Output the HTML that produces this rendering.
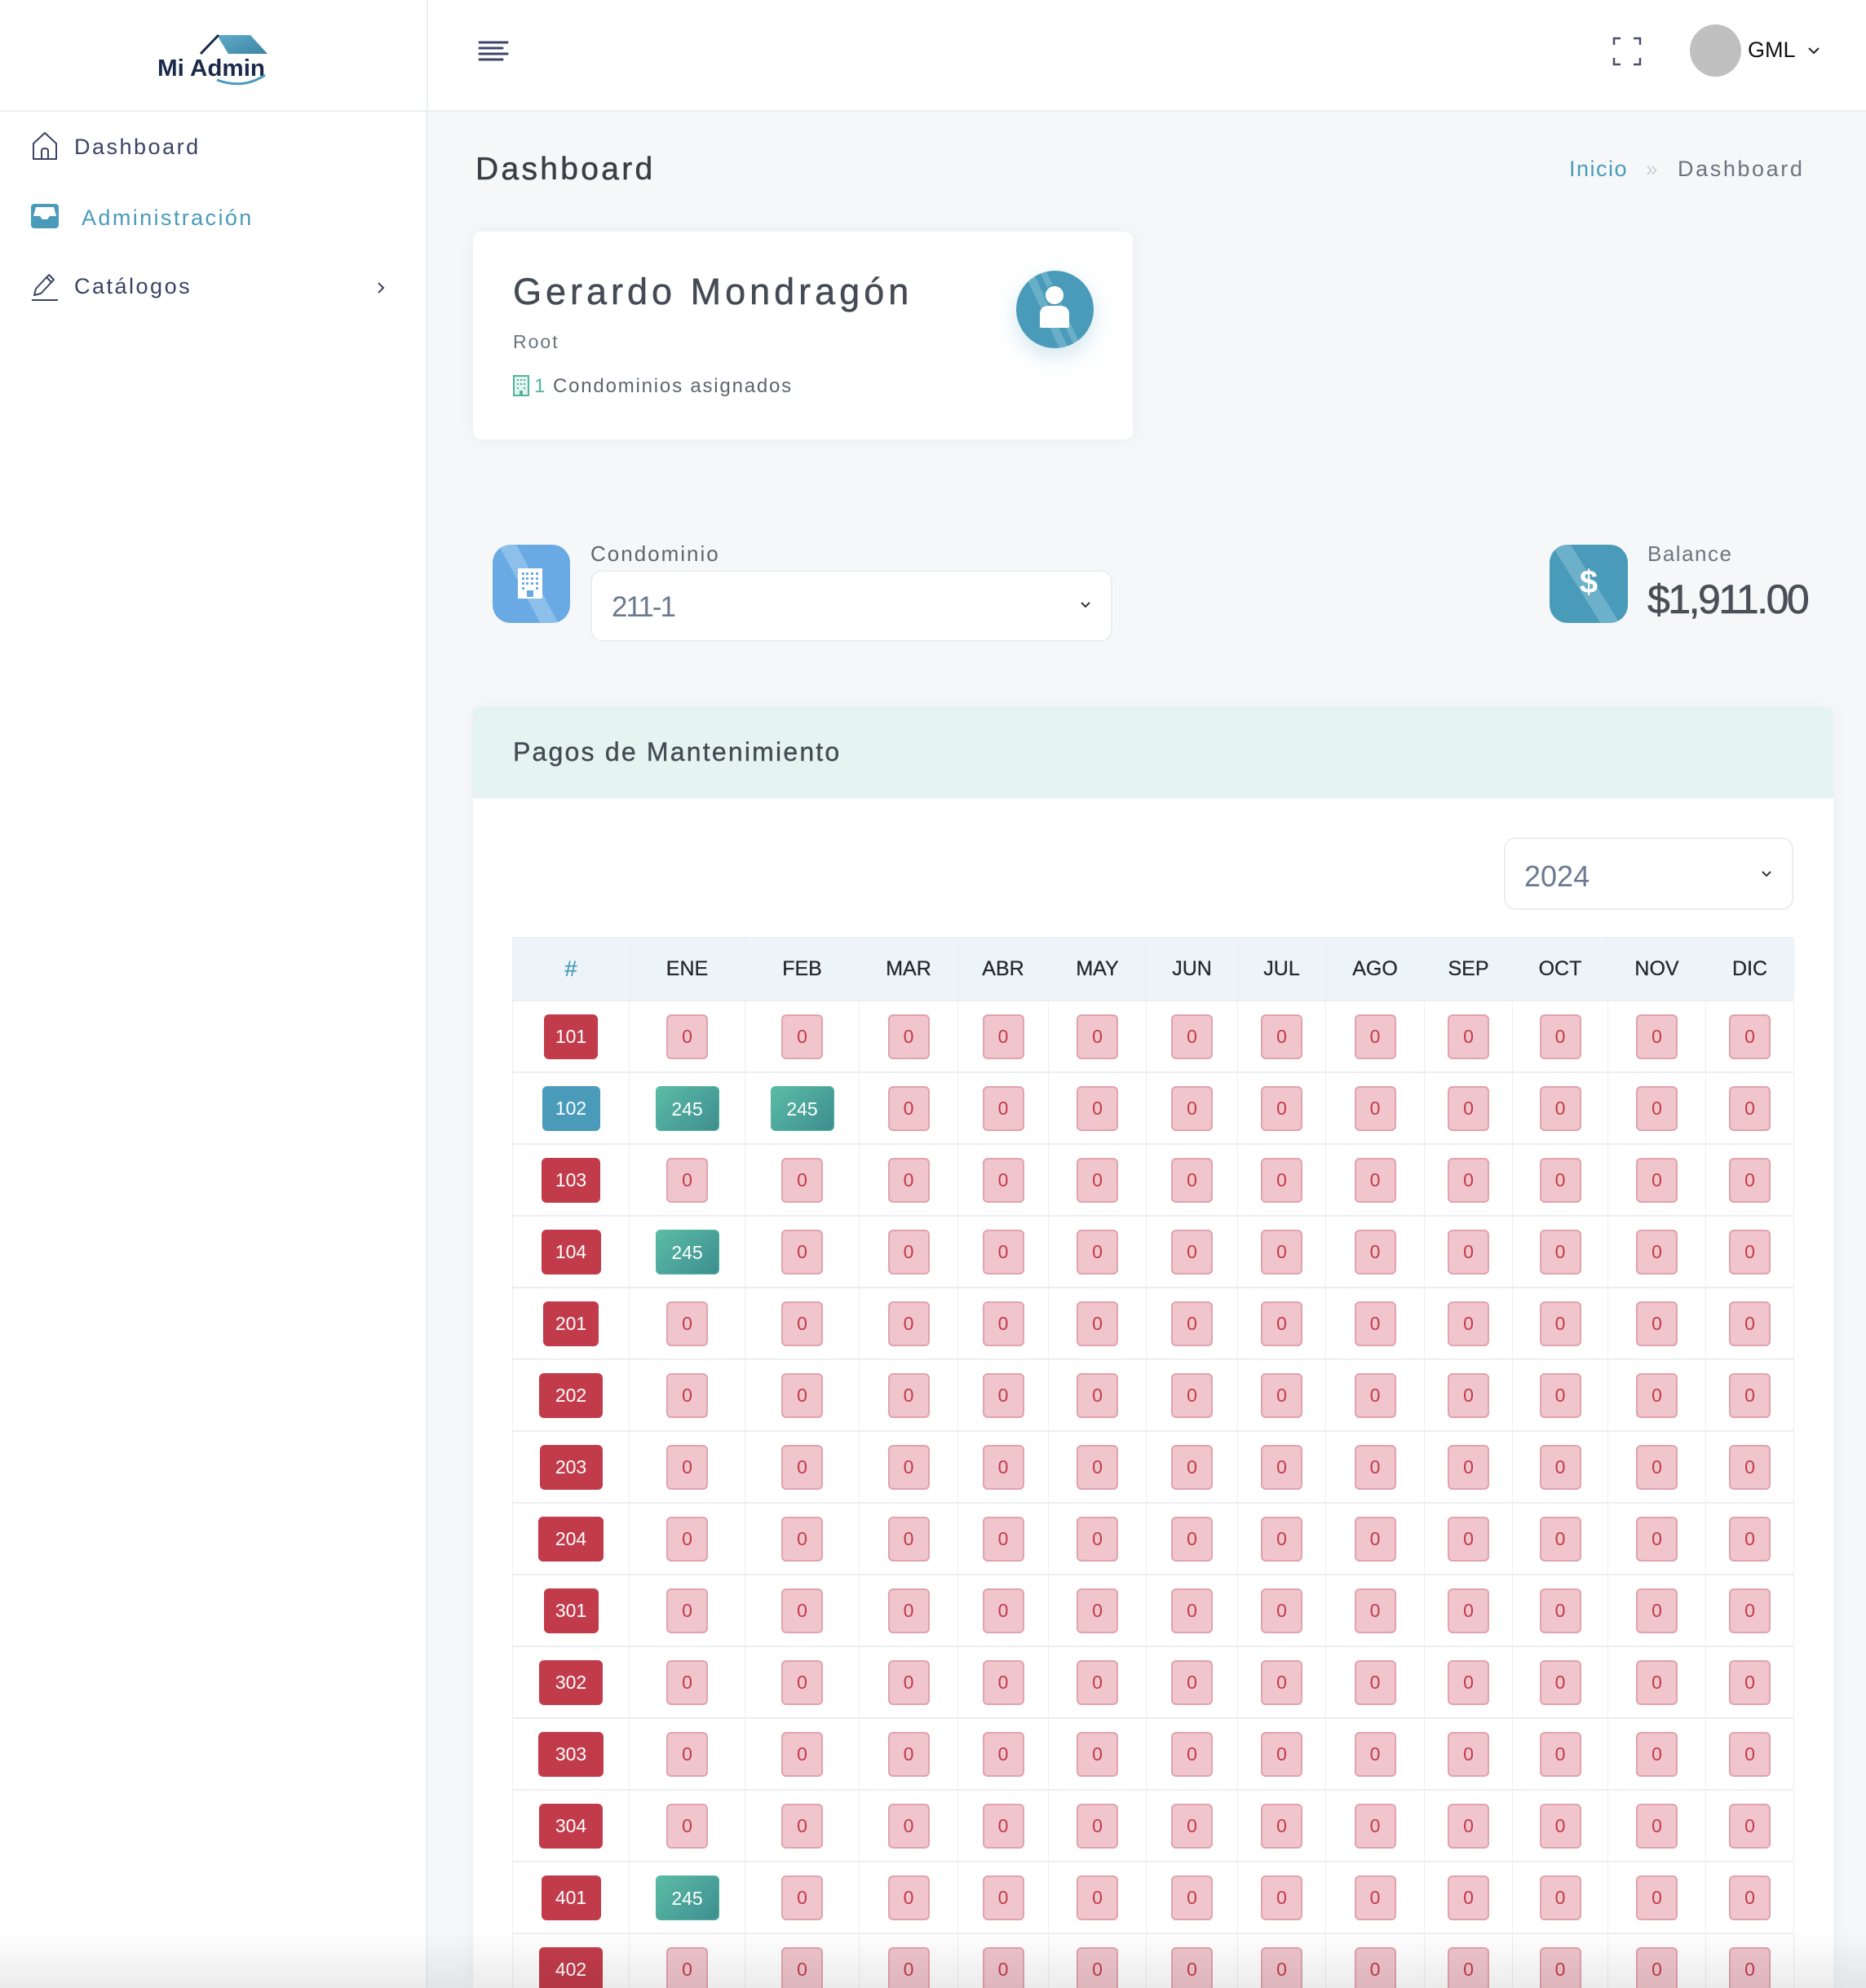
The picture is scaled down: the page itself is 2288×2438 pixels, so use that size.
<!DOCTYPE html>
<html><head><meta charset="utf-8">
<style>
*{margin:0;padding:0;box-sizing:border-box}
html,body{width:2288px;height:2438px;overflow:hidden}
body{position:relative;background:#f5f7f9;font-family:"Liberation Sans",sans-serif}
.a{position:absolute}
.t{position:absolute;white-space:nowrap;line-height:1}
.gw{position:absolute;left:628px;top:1149px;width:1572px;height:1289px;overflow:hidden}
.g{position:absolute;left:0;top:0;width:1571px;display:grid;
grid-template-columns:143px 142px 140px 121px 111px 120px 112px 108px 121px 108px 117px 120px 108px;
grid-template-rows:78px repeat(14,88px);border-left:1px solid #eceef1;border-top:1px solid #eceef1}
.g>div{border-right:1px solid #eceef1;border-bottom:2px solid #eceef1;display:flex;align-items:center;justify-content:center}
.g>div.h{background:#edf4f9;font-size:25px;color:#25282c;-webkit-text-stroke:.3px #25282c}
.g>div.hh{color:#4a9bba;-webkit-text-stroke:.3px #4a9bba;font-size:27px}
.g b{display:inline-block;height:55px;line-height:55px;text-align:center;font-weight:normal;font-size:23px;border-radius:6px}
.z{width:51px;background:#f0c5cc;border:2px solid #e1a3ad;color:#c23b4b;line-height:51px!important}
.u{background:#c23b4b;color:#fff}
.bl{background:#4a9bba}
.p{width:78px;color:#fff;background:linear-gradient(135deg,#5bbca6,#3e8e90);border:1px solid #55b5a0}
.icon{position:absolute;border-radius:22px;overflow:hidden}
</style></head><body>

<!-- sidebar -->
<div class="a" style="left:0;top:0;width:524px;height:2438px;background:#fff;border-right:2px solid #eceef1"></div>
<!-- top header -->
<div class="a" style="left:0;top:0;width:2288px;height:137px;background:#fff;border-bottom:2px solid #eceef1"></div>
<div class="a" style="left:523px;top:0;width:2px;height:137px;background:#eceef1"></div>

<!-- logo -->
<svg class="a" style="left:180px;top:30px" width="160" height="80" viewBox="0 0 160 80">
<defs><linearGradient id="rf" x1="0" y1="0" x2="1" y2="1"><stop offset="0" stop-color="#5fabc8"/><stop offset="1" stop-color="#3d86a6"/></linearGradient></defs>
<polygon points="86,13 127,13 148,36 100,36" fill="url(#rf)"/>
<line x1="66" y1="36" x2="88" y2="13" stroke="#1b2a4a" stroke-width="3"/>
<text x="13" y="63" font-family="Liberation Sans" font-weight="bold" font-size="29" fill="#1b2a4a" textLength="132" lengthAdjust="spacingAndGlyphs">Mi Admin</text>
<path d="M86 68 Q118 80 145 62" stroke="#4a9bba" stroke-width="3" fill="none"/>
</svg>

<!-- sidebar menu -->
<svg class="a" style="left:38px;top:161px" width="34" height="36" viewBox="0 0 34 36"><path d="M3 15 L17 2 L31 15 V34 H3 Z" fill="none" stroke="#3b4266" stroke-width="2" stroke-linejoin="round"/><path d="M13 34 V24 Q13 21 17 21 Q21 21 21 24 V34" fill="none" stroke="#3b4266" stroke-width="2"/></svg>
<div class="t" style="left:91px;top:167px;font-size:27px;color:#3b4266;letter-spacing:2.5px">Dashboard</div>

<svg class="a" style="left:38px;top:250px" width="34" height="30" viewBox="0 0 34 30"><rect x="0" y="0" width="34" height="30" rx="4" fill="#4a9bba"/><path d="M6 4 H28 L31 15 H23 L20 19 H14 L11 15 H3 Z" fill="#fff"/></svg>
<div class="t" style="left:100px;top:254px;font-size:27px;color:#4a9bba;letter-spacing:2.4px">Administración</div>

<svg class="a" style="left:38px;top:334px" width="34" height="36" viewBox="0 0 34 36"><path d="M4 28 L6 20 L22 3 L28 9 L12 26 Z" fill="none" stroke="#3b4266" stroke-width="2" stroke-linejoin="round"/><line x1="19" y1="6" x2="25" y2="12" stroke="#3b4266" stroke-width="2"/><line x1="1" y1="34" x2="33" y2="34" stroke="#3b4266" stroke-width="2"/></svg>
<div class="t" style="left:91px;top:338px;font-size:27px;color:#3b4266;letter-spacing:2.5px">Catálogos</div>
<svg class="a" style="left:461px;top:345px" width="12" height="16" viewBox="0 0 12 16"><polyline points="3,2 9,8 3,14" fill="none" stroke="#3b4266" stroke-width="2"/></svg>

<!-- hamburger -->
<svg class="a" style="left:586px;top:50px" width="38" height="28" viewBox="0 0 38 28"><g stroke="#3d4468" stroke-width="3" stroke-linecap="round"><line x1="2" y1="2" x2="36" y2="2"/><line x1="2" y1="9" x2="30" y2="9"/><line x1="2" y1="16" x2="36" y2="16"/><line x1="2" y1="23" x2="30" y2="23"/></g></svg>

<!-- fullscreen -->
<svg class="a" style="left:1977px;top:45px" width="36" height="36" viewBox="0 0 36 36"><g fill="none" stroke="#4a4f6e" stroke-width="2.5"><polyline points="2,10 2,2 10,2"/><polyline points="26,2 34,2 34,10"/><polyline points="2,26 2,34 10,34"/><polyline points="26,34 34,34 34,26"/></g></svg>

<!-- user -->
<div class="a" style="left:2072px;top:30px;width:63px;height:64px;border-radius:50%;background:#c0c0c0"></div>
<div class="t" style="left:2143px;top:48px;font-size:27px;color:#111">GML</div>
<svg class="a" style="left:2216px;top:56px" width="16" height="12" viewBox="0 0 16 12"><polyline points="2,3 8,9 14,3" fill="none" stroke="#222" stroke-width="2"/></svg>

<!-- page title -->
<div class="t" style="left:583px;top:188px;font-size:39px;color:#3a3f45;letter-spacing:3.3px;-webkit-text-stroke:.5px #3a3f45">Dashboard</div>
<div class="t" style="left:1924px;top:194px;font-size:27px;color:#4a9bba;letter-spacing:1.5px">Inicio</div>
<div class="t" style="left:2018px;top:194px;font-size:26px;color:#c9ced6">»</div>
<div class="t" style="left:2057px;top:194px;font-size:27px;color:#6c757d;letter-spacing:2.6px">Dashboard</div>

<!-- profile card -->
<div class="a" style="left:580px;top:284px;width:809px;height:255px;background:#fff;border-radius:10px;box-shadow:0 0 24px rgba(30,40,60,.05)"></div>
<div class="t" style="left:629px;top:335px;font-size:45px;color:#454b54;letter-spacing:5px;-webkit-text-stroke:.5px #454b54">Gerardo Mondragón</div>
<div class="t" style="left:629px;top:408px;font-size:23px;color:#6c757d;letter-spacing:2px">Root</div>
<svg class="a" style="left:629px;top:460px" width="20" height="26" viewBox="0 0 20 26"><rect x="1" y="1" width="18" height="24" fill="#e3f3ef" stroke="#52b49e" stroke-width="2"/><g fill="#52b49e"><rect x="5" y="5" width="2" height="2"/><rect x="9" y="5" width="2" height="2"/><rect x="13" y="5" width="2" height="2"/><rect x="5" y="10" width="2" height="2"/><rect x="9" y="10" width="2" height="2"/><rect x="13" y="10" width="2" height="2"/><rect x="5" y="15" width="2" height="2"/><rect x="13" y="15" width="2" height="2"/><rect x="8" y="19" width="4" height="6"/></g></svg>
<div class="t" style="left:655px;top:462px;font-size:24px;color:#52b49e">1</div>
<div class="t" style="left:678px;top:462px;font-size:24px;color:#5f656d;letter-spacing:1.8px">Condominios asignados</div>
<div class="a" style="left:1246px;top:332px;width:95px;height:95px;border-radius:50%;background:linear-gradient(65deg,#4a9bba 38%,#6aafc8 38%,#6aafc8 46%,#4a9bba 46%,#4a9bba 52%,#6aafc8 52%,#6aafc8 58%,#4a9bba 58%);box-shadow:0 10px 26px rgba(74,155,186,.25)"></div>
<svg class="a" style="left:1246px;top:332px" width="95" height="95" viewBox="0 0 95 95"><circle cx="47" cy="30" r="12" fill="#fff" stroke="#4a9bba" stroke-width="2"/><path d="M29 68 V54 Q29 43 40 43 H54 Q65 43 65 54 V68 Q65 70 63 70 H31 Q29 70 29 68 Z" fill="#fff"/><circle cx="47" cy="30" r="11" fill="#fff"/></svg>

<!-- condominio -->
<div class="icon" style="left:604px;top:668px;width:95px;height:96px;background:linear-gradient(62deg,#6aaae4 40%,#8dbfeb 40%,#8dbfeb 55%,#6aaae4 55%)"></div>
<svg class="a" style="left:635px;top:697px" width="30" height="37" viewBox="0 0 30 37"><rect x="0" y="0" width="30" height="37" fill="#fff"/><g fill="#6aaae4"><rect x="5" y="5" width="3" height="3"/><rect x="10" y="5" width="3" height="3"/><rect x="16" y="5" width="3" height="3"/><rect x="22" y="5" width="3" height="3"/><rect x="5" y="11" width="3" height="3"/><rect x="10" y="11" width="3" height="3"/><rect x="16" y="11" width="3" height="3"/><rect x="22" y="11" width="3" height="3"/><rect x="5" y="17" width="3" height="3"/><rect x="10" y="17" width="3" height="3"/><rect x="16" y="17" width="3" height="3"/><rect x="22" y="17" width="3" height="3"/><rect x="5" y="23" width="3" height="3"/><rect x="22" y="23" width="3" height="3"/><rect x="11" y="27" width="8" height="8"/></g></svg>
<div class="t" style="left:724px;top:666px;font-size:26px;color:#5f656d;letter-spacing:2px">Condominio</div>
<div class="a" style="left:724px;top:699px;width:640px;height:88px;background:#fff;border:2px solid #eceef1;border-radius:14px"></div>
<div class="t" style="left:750px;top:727px;font-size:35px;color:#6c7a91;letter-spacing:-2px">211-1</div>
<svg class="a" style="left:1324px;top:737px" width="14" height="10" viewBox="0 0 14 10"><polyline points="2,2 7,7 12,2" fill="none" stroke="#333" stroke-width="2"/></svg>

<!-- balance -->
<div class="icon" style="left:1900px;top:668px;width:96px;height:96px;background:linear-gradient(58deg,#4a9bba 40%,#6cb0c9 40%,#6cb0c9 55%,#4a9bba 55%)"></div>
<div class="t" style="left:1900px;top:694px;width:96px;text-align:center;font-size:40px;font-weight:bold;color:#fff">$</div>
<div class="t" style="left:2020px;top:666px;font-size:26px;color:#6c757d;letter-spacing:1.5px">Balance</div>
<div class="t" style="left:2020px;top:710px;font-size:50px;color:#4a4f57;letter-spacing:-2.5px;-webkit-text-stroke:.6px #4a4f57">$1,911.00</div>

<!-- main card -->
<div class="a" style="left:580px;top:867px;width:1668px;height:1571px;background:#fff;border-radius:8px 8px 0 0;box-shadow:0 0 24px rgba(30,40,60,.04);overflow:hidden">
<div style="height:112px;background:#e5f4f1"></div>
</div>
<div class="t" style="left:629px;top:906px;font-size:32px;color:#454b54;letter-spacing:2.2px;-webkit-text-stroke:.4px #454b54">Pagos de Mantenimiento</div>
<div class="a" style="left:1844px;top:1027px;width:355px;height:89px;background:#fff;border:2px solid #eceef1;border-radius:14px"></div>
<div class="t" style="left:1869px;top:1057px;font-size:36px;color:#6c7a91">2024</div>
<svg class="a" style="left:2159px;top:1067px" width="14" height="10" viewBox="0 0 14 10"><polyline points="2,2 7,7 12,2" fill="none" stroke="#333" stroke-width="2"/></svg>

<!-- table -->
<div class="gw"><div class="g">
<div class="h hh">#</div><div class="h">ENE</div><div class="h">FEB</div><div class="h">MAR</div><div class="h">ABR</div><div class="h">MAY</div><div class="h">JUN</div><div class="h">JUL</div><div class="h">AGO</div><div class="h">SEP</div><div class="h">OCT</div><div class="h">NOV</div><div class="h">DIC</div>

<div><b class="u" style="width:66px">101</b></div><div><b class="z">0</b></div><div><b class="z">0</b></div><div><b class="z">0</b></div><div><b class="z">0</b></div><div><b class="z">0</b></div><div><b class="z">0</b></div><div><b class="z">0</b></div><div><b class="z">0</b></div><div><b class="z">0</b></div><div><b class="z">0</b></div><div><b class="z">0</b></div><div><b class="z">0</b></div>

<div><b class="u bl" style="width:71px">102</b></div><div><b class="p">245</b></div><div><b class="p">245</b></div><div><b class="z">0</b></div><div><b class="z">0</b></div><div><b class="z">0</b></div><div><b class="z">0</b></div><div><b class="z">0</b></div><div><b class="z">0</b></div><div><b class="z">0</b></div><div><b class="z">0</b></div><div><b class="z">0</b></div><div><b class="z">0</b></div>

<div><b class="u" style="width:72px">103</b></div><div><b class="z">0</b></div><div><b class="z">0</b></div><div><b class="z">0</b></div><div><b class="z">0</b></div><div><b class="z">0</b></div><div><b class="z">0</b></div><div><b class="z">0</b></div><div><b class="z">0</b></div><div><b class="z">0</b></div><div><b class="z">0</b></div><div><b class="z">0</b></div><div><b class="z">0</b></div>

<div><b class="u" style="width:73px">104</b></div><div><b class="p">245</b></div><div><b class="z">0</b></div><div><b class="z">0</b></div><div><b class="z">0</b></div><div><b class="z">0</b></div><div><b class="z">0</b></div><div><b class="z">0</b></div><div><b class="z">0</b></div><div><b class="z">0</b></div><div><b class="z">0</b></div><div><b class="z">0</b></div><div><b class="z">0</b></div>

<div><b class="u" style="width:68px">201</b></div><div><b class="z">0</b></div><div><b class="z">0</b></div><div><b class="z">0</b></div><div><b class="z">0</b></div><div><b class="z">0</b></div><div><b class="z">0</b></div><div><b class="z">0</b></div><div><b class="z">0</b></div><div><b class="z">0</b></div><div><b class="z">0</b></div><div><b class="z">0</b></div><div><b class="z">0</b></div>

<div><b class="u" style="width:78px">202</b></div><div><b class="z">0</b></div><div><b class="z">0</b></div><div><b class="z">0</b></div><div><b class="z">0</b></div><div><b class="z">0</b></div><div><b class="z">0</b></div><div><b class="z">0</b></div><div><b class="z">0</b></div><div><b class="z">0</b></div><div><b class="z">0</b></div><div><b class="z">0</b></div><div><b class="z">0</b></div>

<div><b class="u" style="width:77px">203</b></div><div><b class="z">0</b></div><div><b class="z">0</b></div><div><b class="z">0</b></div><div><b class="z">0</b></div><div><b class="z">0</b></div><div><b class="z">0</b></div><div><b class="z">0</b></div><div><b class="z">0</b></div><div><b class="z">0</b></div><div><b class="z">0</b></div><div><b class="z">0</b></div><div><b class="z">0</b></div>

<div><b class="u" style="width:80px">204</b></div><div><b class="z">0</b></div><div><b class="z">0</b></div><div><b class="z">0</b></div><div><b class="z">0</b></div><div><b class="z">0</b></div><div><b class="z">0</b></div><div><b class="z">0</b></div><div><b class="z">0</b></div><div><b class="z">0</b></div><div><b class="z">0</b></div><div><b class="z">0</b></div><div><b class="z">0</b></div>

<div><b class="u" style="width:67px">301</b></div><div><b class="z">0</b></div><div><b class="z">0</b></div><div><b class="z">0</b></div><div><b class="z">0</b></div><div><b class="z">0</b></div><div><b class="z">0</b></div><div><b class="z">0</b></div><div><b class="z">0</b></div><div><b class="z">0</b></div><div><b class="z">0</b></div><div><b class="z">0</b></div><div><b class="z">0</b></div>

<div><b class="u" style="width:78px">302</b></div><div><b class="z">0</b></div><div><b class="z">0</b></div><div><b class="z">0</b></div><div><b class="z">0</b></div><div><b class="z">0</b></div><div><b class="z">0</b></div><div><b class="z">0</b></div><div><b class="z">0</b></div><div><b class="z">0</b></div><div><b class="z">0</b></div><div><b class="z">0</b></div><div><b class="z">0</b></div>

<div><b class="u" style="width:80px">303</b></div><div><b class="z">0</b></div><div><b class="z">0</b></div><div><b class="z">0</b></div><div><b class="z">0</b></div><div><b class="z">0</b></div><div><b class="z">0</b></div><div><b class="z">0</b></div><div><b class="z">0</b></div><div><b class="z">0</b></div><div><b class="z">0</b></div><div><b class="z">0</b></div><div><b class="z">0</b></div>

<div><b class="u" style="width:78px">304</b></div><div><b class="z">0</b></div><div><b class="z">0</b></div><div><b class="z">0</b></div><div><b class="z">0</b></div><div><b class="z">0</b></div><div><b class="z">0</b></div><div><b class="z">0</b></div><div><b class="z">0</b></div><div><b class="z">0</b></div><div><b class="z">0</b></div><div><b class="z">0</b></div><div><b class="z">0</b></div>

<div><b class="u" style="width:73px">401</b></div><div><b class="p">245</b></div><div><b class="z">0</b></div><div><b class="z">0</b></div><div><b class="z">0</b></div><div><b class="z">0</b></div><div><b class="z">0</b></div><div><b class="z">0</b></div><div><b class="z">0</b></div><div><b class="z">0</b></div><div><b class="z">0</b></div><div><b class="z">0</b></div><div><b class="z">0</b></div>

<div><b class="u" style="width:78px">402</b></div><div><b class="z">0</b></div><div><b class="z">0</b></div><div><b class="z">0</b></div><div><b class="z">0</b></div><div><b class="z">0</b></div><div><b class="z">0</b></div><div><b class="z">0</b></div><div><b class="z">0</b></div><div><b class="z">0</b></div><div><b class="z">0</b></div><div><b class="z">0</b></div><div><b class="z">0</b></div>
</div></div>

<!-- bottom fade -->
<div class="a" style="left:0;top:2368px;width:2288px;height:70px;background:linear-gradient(to bottom,rgba(0,0,0,0),rgba(0,0,0,.08))"></div>
</body></html>
